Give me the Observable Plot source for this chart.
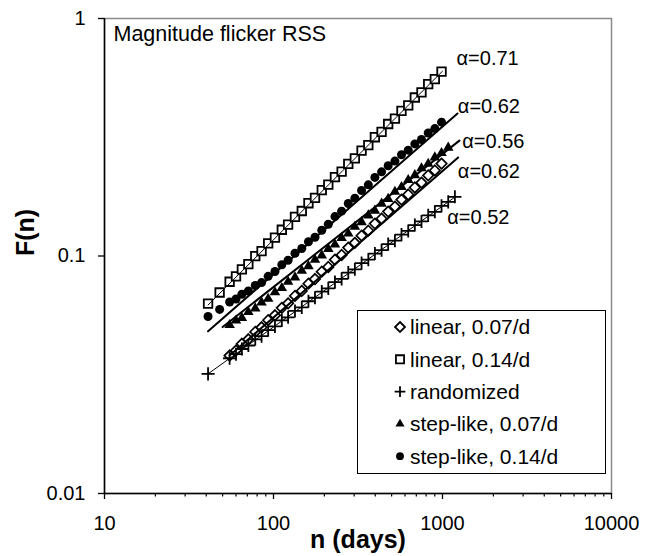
<!DOCTYPE html>
<html><head><meta charset="utf-8">
<script src="https://cdn.jsdelivr.net/npm/d3@7"></script>
<script src="https://cdn.jsdelivr.net/npm/@observablehq/plot@0.6"></script>
<style>
html,body{margin:0;padding:0;background:#fff;}
#wrap{position:relative;width:654px;height:556px;font-family:Arial,"Liberation Sans",sans-serif;}
#legend{position:absolute;left:357px;top:310px;}
</style></head><body><div id="wrap"></div>
<script>
// ---- data ----
const nDays = [41,48,55,60,65,71,78,85,93,102,112,122,134,147,161,176,193,211,231,253,277,303,332,364,398,436,477,523,572,627,686,751,823,901,987,1081,1184];
const fLin007 = [null,null,0.0381,0.0400,0.0427,0.0446,0.0479,0.0501,0.0537,0.0563,0.0605,0.0632,0.0679,0.0713,0.0765,0.0800,0.0859,0.0899,0.0965,0.1010,0.1085,0.1136,0.1218,0.1278,0.1369,0.1436,0.1538,0.1614,0.1728,0.1815,0.1943,0.2038,0.2185,0.2292,0.2450,null,null];
const fLin014 = [0.0630,0.0702,0.0779,0.0821,0.0878,0.0925,0.0998,0.1049,0.1131,0.1195,0.1290,0.1356,0.1462,0.1547,0.1668,0.1758,0.1895,0.1998,0.2150,0.2268,0.2445,0.2578,0.2780,0.2932,0.3163,0.3330,0.3596,0.3790,0.4085,0.4305,0.4650,0.4890,0.5290,0.5560,0.5980,null,null];
const fRandom = [0.0319,null,0.0371,0.0386,0.0406,0.0420,0.0446,0.0460,0.0487,0.0505,0.0536,0.0552,0.0587,0.0608,0.0645,0.0667,0.0708,0.0731,0.0776,0.0801,0.0851,0.0879,0.0933,0.0965,0.1024,0.1058,0.1122,0.1160,0.1230,0.1275,0.1350,0.1398,0.1482,0.1535,0.1625,0.1690,0.1775];
const fStep007 = [null,null,0.0512,0.0535,0.0549,0.0581,0.0602,0.0638,0.0661,0.0704,0.0733,0.0779,0.0813,0.0868,0.0906,0.0964,0.1006,0.1071,0.1117,0.1190,0.1243,0.1327,0.1388,0.1482,0.1553,0.1661,0.1740,0.1863,0.1952,0.2088,0.2190,0.2342,0.2445,0.2602,0.2715,0.2860,null];
const fStep014 = [0.0556,0.0596,0.0640,0.0659,0.0690,0.0712,0.0751,0.0773,0.0821,0.0860,0.0919,0.0960,0.1027,0.1075,0.1148,0.1200,0.1283,0.1360,0.1465,0.1545,0.1663,0.1752,0.1888,0.1993,0.2142,0.2262,0.2400,0.2510,0.2668,0.2790,0.2965,0.3095,0.3295,0.3440,0.3660,null,null];

const seriesNames = ["linear, 0.07/d","linear, 0.14/d","randomized","step-like, 0.07/d","step-like, 0.14/d"];
// fitted power-law lines: start/end points
const fitStartN = [55, 41, 41, 50, 41];
const fitStartF = [0.0381, 0.0622, 0.0319, 0.0502, 0.0482];
const fitEndN   = [1238, 1000, 1184, 1259, 1227];
const fitEndF   = [0.260, 0.600, 0.177, 0.306, 0.398];
// exponent labels
const alphaText = ["α=0.71","α=0.62","α=0.56","α=0.62","α=0.52"];
const alphaN = [1211, 1232, 1308, 1232, 1067];
const alphaF = [0.676, 0.426, 0.304, 0.227, 0.145];
// axis ticks
const xTicks = [10, 100, 1000, 10000];
const xMinor = [20,30,40,50,60,70,80,90,200,300,400,500,600,700,800,900,2000,3000,4000,5000,6000,7000,8000,9000];
const yTicks = [0.01, 0.1, 1];
const titleText = "Magnitude flicker RSS";

// ---- build ----
const values = [fLin007, fLin014, fRandom, fStep007, fStep014];
const points = seriesNames.flatMap((s, i) => nDays.map((n, j) => ({series: s, n, F: values[i][j]})).filter(d => d.F != null));
const fits = seriesNames.flatMap((s, i) => [{series: s, n: fitStartN[i], F: fitStartF[i]}, {series: s, n: fitEndN[i], F: fitEndF[i]}]);
const labels = alphaText.map((t, i) => ({t, n: alphaN[i], F: alphaF[i]}));

const sty = {
  "linear, 0.07/d":    {symbol: "diamond2", r: 4.7, fill: "white", stroke: "black", sw: 1.7, lw: 2,   lsym: d3.symbolDiamond2, lsize: 64, lfill: "white"},
  "linear, 0.14/d":    {symbol: "square",   r: 4.8, fill: "white", stroke: "black", sw: 1.8, lw: 1,   lsym: d3.symbolSquare,   lsize: 66, lfill: "white"},
  "randomized":        {symbol: "plus",     r: 4.3, fill: "none",  stroke: "black", sw: 1.8, lw: 1,   lsym: d3.symbolPlus,     lsize: 40, lfill: "none"},
  "step-like, 0.07/d": {symbol: "triangle", r: 3.9, fill: "black", stroke: "none",  sw: 0,   lw: 2,   lsym: d3.symbolTriangle, lsize: 36, lfill: "black"},
  "step-like, 0.14/d": {symbol: "circle",   r: 4.5, fill: "black", stroke: "none",  sw: 0,   lw: 2,   lsym: d3.symbolCircle,   lsize: 48, lfill: "black"}
};

const dotMarks = seriesNames.map(s => Plot.dot(points.filter(d => d.series === s), {
  x: "n", y: "F", symbol: () => sty[s].symbol, r: sty[s].r, fill: sty[s].fill, stroke: sty[s].stroke, strokeWidth: sty[s].sw
}));
const lineMarks = seriesNames.map(s => Plot.line(fits.filter(d => d.series === s), {
  x: "n", y: "F", stroke: "black", strokeWidth: sty[s].lw
}));

const chart = Plot.plot({
  width: 654, height: 556,
  marginLeft: 104, marginRight: 43, marginTop: 18, marginBottom: 63,
  style: {fontFamily: "Arial, 'Liberation Sans', sans-serif", color: "black", background: "white"},
  x: {type: "log", domain: [10, 10000]},
  y: {type: "log", domain: [0.01, 1]},
  symbol: {type: "identity"},
  marks: [
    Plot.frame({stroke: "#8a8a8a", strokeWidth: 1.5}),
    ...dotMarks,
    ...lineMarks,
    Plot.ruleX([10], {stroke: "black", strokeWidth: 1.5}),
    Plot.ruleY([0.01], {stroke: "black", strokeWidth: 1.5}),
    Plot.axisX({ticks: xMinor, tickSize: 3.5, tickFormat: () => "", label: null, strokeWidth: 1.2}),
    Plot.axisX({ticks: xTicks, tickSize: 6, tickPadding: 16, tickFormat: d => String(d), fontSize: 20, label: null, strokeWidth: 1.3}),
    Plot.axisY({ticks: yTicks, tickSize: 6, tickPadding: 13, tickFormat: d => String(d), fontSize: 20, label: null, strokeWidth: 1.3}),
    Plot.text(["n (days)"], {text: d => d, frameAnchor: "bottom", lineAnchor: "bottom", dy: 54, fontSize: 25, fontWeight: "bold"}),
    Plot.text(["F(n)"], {text: d => d, frameAnchor: "left", rotate: -90, dx: -79, fontSize: 25, fontWeight: "bold"}),
    Plot.text([titleText], {text: d => d, frameAnchor: "top-left", textAnchor: "start", lineAnchor: "top", dx: 9, dy: 7, fontSize: 21.5}),
    Plot.text(labels, {x: "n", y: "F", text: "t", textAnchor: "start", lineAnchor: "middle", fontSize: 20})
  ]
});

const wrap = document.getElementById("wrap");
wrap.appendChild(chart);

// legend box (inside plot area)
const lw = 249, lh = 164;
const leg = d3.select(wrap).append("svg").attr("id", "legend").attr("width", lw).attr("height", lh);
leg.append("rect").attr("x", 0.5).attr("y", 0.5).attr("width", lw - 1).attr("height", lh - 1).attr("fill", "white").attr("stroke", "black").attr("stroke-width", 1);
seriesNames.forEach((s, i) => {
  const cy = 17 + i * 32.3;
  const st = sty[s];
  leg.append("path").attr("transform", `translate(43,${cy})`)
    .attr("d", d3.symbol(st.lsym, st.lsize)())
    .attr("fill", st.lfill).attr("stroke", st.stroke === "none" ? "none" : "black").attr("stroke-width", st.stroke === "none" ? 0 : 1.8);
  leg.append("text").attr("x", 53).attr("y", cy).attr("dy", "0.35em")
    .attr("font-size", 21).attr("font-family", "Arial, 'Liberation Sans', sans-serif").text(s);
});
</script>
</body></html>
